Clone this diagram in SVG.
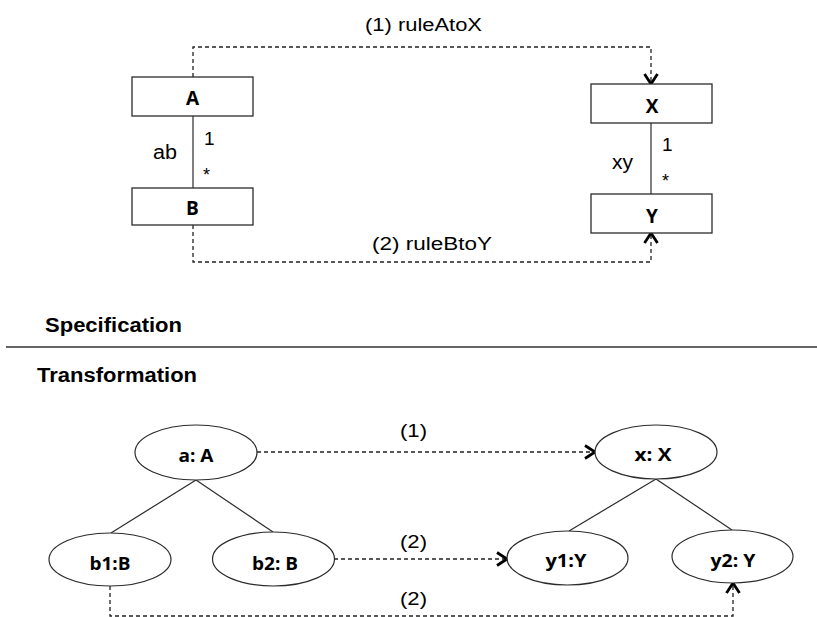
<svg xmlns="http://www.w3.org/2000/svg" width="817" height="617" viewBox="0 0 817 617">
  <style>
    .box { fill: #ffffff; stroke: #2b2b2b; stroke-width: 1.3; }
    .node { fill: #ffffff; stroke: #2b2b2b; stroke-width: 1.2; }
    .assoc { stroke: #2b2b2b; stroke-width: 1.2; fill: none; }
    .map { stroke: #222; stroke-width: 1.3; fill: none; stroke-dasharray: 4 3; }
    .arrow { marker-end: url(#open); }
    .lbl { font-family: "Open Sans", "Liberation Sans", sans-serif; font-weight: bold; fill: #000; text-anchor: middle; }
    .txt { font-family: "Liberation Sans", Arial, sans-serif; fill: #000; }
    .head { font-family: "Liberation Sans", Arial, sans-serif; font-weight: bold; fill: #000; font-size: 19.5px; }
  </style>
  <defs>
    <marker id="open" markerUnits="userSpaceOnUse" markerWidth="18" markerHeight="18" refX="12" refY="8" orient="auto" overflow="visible">
      <path d="M2,1.5 L12,8 L2,14.5" fill="none" stroke="#000" stroke-width="2.8" stroke-linejoin="miter"/>
    </marker>
  </defs>

  <!-- connectors -->
  <g id="connectors">
    <!-- class diagram associations -->
    <line class="assoc" x1="193" y1="116" x2="193" y2="188"/>
    <line class="assoc" x1="651" y1="123" x2="651" y2="194"/>
    <!-- rule mappings -->
    <path class="map arrow" d="M193,77 V47 H651 V84"/>
    <path class="map arrow" d="M193,225 V262 H651 V233"/>
    <!-- object tree links -->
    <line class="assoc" x1="196" y1="480" x2="111" y2="533"/>
    <line class="assoc" x1="196" y1="480" x2="273" y2="532"/>
    <line class="assoc" x1="656" y1="479" x2="569" y2="531"/>
    <line class="assoc" x1="656" y1="479" x2="732" y2="530"/>
    <!-- object mappings -->
    <path class="map arrow" d="M257,452 H595"/>
    <path class="map arrow" d="M334,559 H507"/>
    <path class="map arrow" d="M110,586 V616 H733 V583"/>
  </g>

  <!-- connector labels -->
  <g id="connector-labels">
    <text class="txt" x="365" y="31" font-size="18" textLength="117" lengthAdjust="spacingAndGlyphs">(1) ruleAtoX</text>
    <text class="txt" x="372" y="250" font-size="18" textLength="120" lengthAdjust="spacingAndGlyphs">(2) ruleBtoY</text>
    <text class="txt" x="153" y="159" font-size="19.5" textLength="24" lengthAdjust="spacingAndGlyphs">ab</text>
    <text class="txt" x="204" y="145" font-size="19">1</text>
    <text class="txt" x="203" y="181" font-size="18">*</text>
    <text class="txt" x="612" y="169" font-size="19.5" textLength="21" lengthAdjust="spacingAndGlyphs">xy</text>
    <text class="txt" x="662" y="151" font-size="19">1</text>
    <text class="txt" x="662" y="187" font-size="18">*</text>
    <text class="txt" x="400" y="437" font-size="18" textLength="27" lengthAdjust="spacingAndGlyphs">(1)</text>
    <text class="txt" x="400" y="548" font-size="18" textLength="27" lengthAdjust="spacingAndGlyphs">(2)</text>
    <text class="txt" x="400" y="605" font-size="18" textLength="27" lengthAdjust="spacingAndGlyphs">(2)</text>
  </g>

  <!-- specification classes -->
  <g id="class-A">
    <rect class="box" x="132" y="77" width="121" height="39"/>
    <text class="lbl" x="192.5" y="105" font-size="19">A</text>
  </g>
  <g id="class-B">
    <rect class="box" x="132" y="188" width="121" height="37"/>
    <text class="lbl" x="192.5" y="215" font-size="19">B</text>
  </g>
  <g id="class-X">
    <rect class="box" x="591" y="84" width="121" height="39"/>
    <text class="lbl" x="652" y="113" font-size="19">X</text>
  </g>
  <g id="class-Y">
    <rect class="box" x="591" y="194" width="121" height="39"/>
    <text class="lbl" x="652" y="223" font-size="19">Y</text>
  </g>

  <!-- section divider -->
  <g id="divider">
    <text class="head" x="45" y="332" textLength="137" lengthAdjust="spacingAndGlyphs">Specification</text>
    <line x1="6" y1="347" x2="817" y2="347" stroke="#333" stroke-width="1.5"/>
    <text class="head" x="37" y="382" textLength="160" lengthAdjust="spacingAndGlyphs">Transformation</text>
  </g>

  <!-- transformation objects -->
  <g id="obj-a">
    <ellipse class="node" cx="196" cy="452.5" rx="61" ry="27.5"/>
    <text class="lbl" x="196" y="462" font-size="17" textLength="35" lengthAdjust="spacingAndGlyphs">a: A</text>
  </g>
  <g id="obj-b1">
    <ellipse class="node" cx="110" cy="559.5" rx="61" ry="26.5"/>
    <text class="lbl" x="110" y="570" font-size="17" textLength="41" lengthAdjust="spacingAndGlyphs">b1:B</text>
  </g>
  <g id="obj-b2">
    <ellipse class="node" cx="273.5" cy="559" rx="61" ry="27"/>
    <text class="lbl" x="275" y="570" font-size="17" textLength="46" lengthAdjust="spacingAndGlyphs">b2: B</text>
  </g>
  <g id="obj-x">
    <ellipse class="node" cx="656" cy="452" rx="61" ry="27"/>
    <text class="lbl" x="653" y="461" font-size="17" textLength="37" lengthAdjust="spacingAndGlyphs">x: X</text>
  </g>
  <g id="obj-y1">
    <ellipse class="node" cx="567.5" cy="558" rx="60.5" ry="27"/>
    <text class="lbl" x="566" y="567" font-size="17" textLength="41" lengthAdjust="spacingAndGlyphs">y1:Y</text>
  </g>
  <g id="obj-y2">
    <ellipse class="node" cx="732.5" cy="556.5" rx="60.5" ry="26.5"/>
    <text class="lbl" x="733" y="567" font-size="17" textLength="45" lengthAdjust="spacingAndGlyphs">y2: Y</text>
  </g>
</svg>
